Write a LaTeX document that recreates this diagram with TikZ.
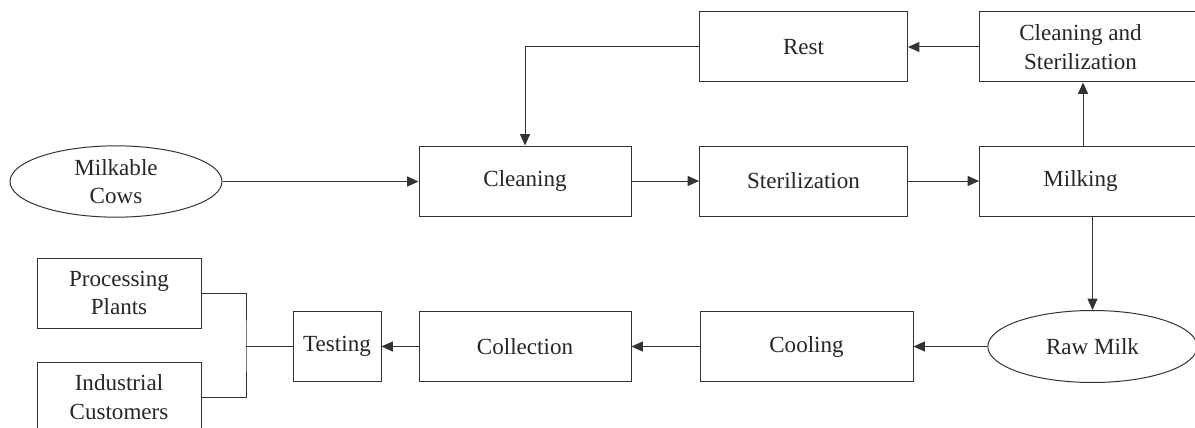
\documentclass[tikz,border=0pt]{standalone}
\usepackage{fontspec}
\setmainfont{Liberation Serif}
\usetikzlibrary{shapes.geometric,arrows.meta}

\tikzset{
  base/.style={draw=black!80, line width=0.75pt, text=black!85, inner sep=0pt,
    font=\fontsize{17.3}{21.5}\selectfont},
  box/.style={base, rectangle, minimum height=52.5pt, align=center},
  oval/.style={base, ellipse, minimum width=159pt, minimum height=53.5pt, align=center},
  link/.style={draw=black!80, line width=0.75pt},
  arr/.style={link, -{Triangle[length=8.5pt,width=7.5pt]}},
}
% wide boxes on the right edge: text centred in the left 202px, box runs past the edge
\newcommand{\rightlabel}[1]{\parbox{151.5pt}{\centering #1}\hspace*{45pt}}

\begin{document}
\begin{tikzpicture}[x=0.75pt,y=-0.75pt]
\useasboundingbox (0,0) rectangle (1195,428);
\clip (0,0) rectangle (1195,428);

% upper row
\node[oval] (cows) at (116,181.5) {Milkable\\Cows};
\node[box, minimum width=159pt] (clean) at (525,181) {Cleaning};
\node[box, minimum width=156pt] (steril) at (803.5,181) {Sterilization};
\node[box, anchor=west] (milk) at (979,181) {\rightlabel{Milking}};
\node[box, minimum width=156pt] (rest) at (803.5,47) {Rest};
\node[box, anchor=west] (cs) at (979,47) {\rightlabel{Cleaning and\\Sterilization}};

% lower row
\node[oval, minimum width=157pt, minimum height=54pt] (raw) at (1092.5,346.5) {Raw Milk};
\node[box, minimum width=159.75pt] (cool) at (806.5,346.5) {Cooling};
\node[box, minimum width=159pt] (coll) at (525,346.5) {Collection};
\node[box, minimum width=66pt] (test) at (337,346.5) {Testing};
\node[box, minimum width=123pt] (pp) at (119,293) {Processing\\Plants};
\node[box, minimum width=123pt] (ic) at (119,397) {Industrial\\Customers};
\coordinate (split) at (246,346.5);

% flow
\draw[arr] (cows.east) -- (clean.west |- cows.east);
\draw[arr] (clean.east) -- (steril.west);
\draw[arr] (steril.east) -- (milk.west);
\draw[arr] ([xshift=78pt]milk.north west) -- ([xshift=78pt]cs.south west);
\draw[arr] (cs.west) -- (rest.east);
\draw[arr] (rest.west) -| (clean.north);
\draw[arr] (raw.north |- milk.south) -- (raw.north);
\draw[arr] (raw.west) -- (cool.east);
\draw[arr] (cool.west) -- (coll.east);
\draw[arr] (coll.west) -- (test.east);
\draw[link] (test.west) -- (split);
\draw[link] (pp.east) -| (split) |- (ic.east);
\end{tikzpicture}
\end{document}
